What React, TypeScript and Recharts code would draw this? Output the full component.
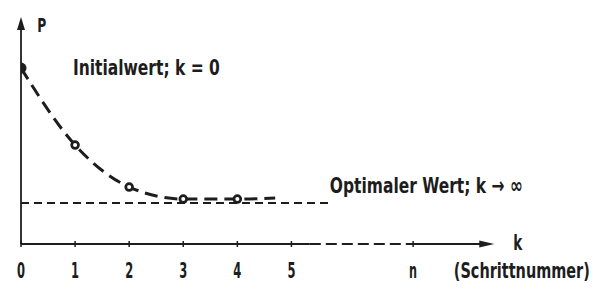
import { Line, LineChart, ReferenceDot, ReferenceLine, XAxis, YAxis } from "recharts";

// Iteration P(k): starts at the initial value, settles on the optimum.
const steps = [0, 1, 2, 3, 4, 4.7];
const pValues = [7.75, 4.36, 2.51, 1.98, 1.98, 2.03];
const marked = [true, true, true, true, true, false];
const optimum = 1.81;

const stepTicks = [0, 1, 2, 3, 4, 5, 7.25];
const tickLabels = ["0", "1", "2", "3", "4", "5", "n"];
const unitTick = 9.26;
const unitLabel = "(Schrittnummer)";

const INK = "#1d1d1d";
const FONT = "'DejaVu Sans Condensed', 'DejaVu Sans', sans-serif";
const X_MAX = 10.65;
const P_MAX = 10;
const SQUEEZE = 0.72;

const data = steps.map((k, i) => ({ k, p: pValues[i], marked: marked[i] }));

function StepTick(props: any) {
  const { x, y, payload } = props;
  if (payload.value === unitTick) {
    return (
      <text transform={`translate(${x},${y + 34}) scale(${SQUEEZE},1)`} textAnchor="middle"
        fontFamily={FONT} fontWeight="bold" fontSize={21} fill={INK}
        textLength={136 / SQUEEZE} lengthAdjust="spacingAndGlyphs">
        {unitLabel}
      </text>
    );
  }
  const i = stepTicks.indexOf(payload.value);
  return (
    <g>
      <line x1={x} x2={x} y1={y - 3} y2={y + 3} stroke={INK} strokeWidth={1.5} />
      <text x={x} y={y + 34} textAnchor="middle" fontFamily={FONT} fontWeight="bold"
        fontSize={21} fill={INK} textLength={8} lengthAdjust="spacingAndGlyphs">
        {tickLabels[i]}
      </text>
    </g>
  );
}

function StepDot(props: any) {
  const { cx, cy, payload, index } = props;
  if (!payload.marked) return <g key={index} />;
  if (index === 0) return <circle key={index} cx={cx} cy={cy} r={5.5} fill={INK} />;
  return <circle key={index} cx={cx} cy={cy} r={3.4} fill="#fff" stroke={INK} strokeWidth={2.7} />;
}

const caption = (text: string, width: number, size = 22) => (p: any) => (
  <text x={p.cx} y={p.cy} fontFamily={FONT} fontWeight="bold" fontSize={size} fill={INK}
    textLength={width} lengthAdjust="spacingAndGlyphs">
    {text}
  </text>
);

const arrowRight = (p: any) => (
  <polygon points={`${p.cx},${p.cy} ${p.cx - 15},${p.cy - 3.5} ${p.cx - 15},${p.cy + 3.5}`} fill={INK} />
);
const arrowUp = (p: any) => (
  <polygon points={`${p.cx},${p.cy} ${p.cx - 4},${p.cy + 13} ${p.cx + 4},${p.cy + 13}`} fill={INK} />
);

export default function App() {
  return (
    <div style={{ position: "absolute", left: 0, top: 0, width: 597, height: 289, background: "#fff" }}>
      <LineChart width={597} height={289} data={data} margin={{ top: 17, right: 0, bottom: 0, left: 21 }}>
        <XAxis type="number" dataKey="k" domain={[0, X_MAX]} ticks={[...stepTicks, unitTick]}
          interval={0} height={45} axisLine={false} tickLine={false} tickSize={0} tickMargin={0}
          tick={<StepTick />} allowDataOverflow />
        <YAxis type="number" domain={[0, P_MAX]} hide allowDataOverflow />

        {/* axes */}
        <ReferenceLine segment={[{ x: 0, y: 0 }, { x: 0, y: P_MAX - 0.4 }]} stroke={INK} strokeWidth={1.8} />
        <ReferenceLine segment={[{ x: 0, y: 0 }, { x: 5.34, y: 0 }]} stroke={INK} strokeWidth={1.8} />
        <ReferenceLine segment={[{ x: 5.34, y: 0 }, { x: 7.25, y: 0 }]} stroke={INK} strokeWidth={1.8}
          strokeDasharray="11 5" />
        <ReferenceLine segment={[{ x: 7.25, y: 0 }, { x: 8.5, y: 0 }]} stroke={INK} strokeWidth={1.8} />
        <ReferenceDot x={8.75} y={0} r={0} shape={arrowRight} ifOverflow="visible" />
        <ReferenceDot x={0} y={P_MAX} r={0} shape={arrowUp} ifOverflow="visible" />

        {/* optimum */}
        <ReferenceLine segment={[{ x: 0, y: optimum }, { x: 5.75, y: optimum }]} stroke={INK}
          strokeWidth={2} strokeDasharray="8 5" />

        <Line type="monotone" dataKey="p" stroke={INK} strokeWidth={3} strokeDasharray="13 7"
          dot={StepDot} activeDot={false} isAnimationActive={false} />

        {/* labels */}
        <ReferenceDot x={0.3} y={9.35} r={0} shape={caption("P", 9, 20)} ifOverflow="visible" />
        <ReferenceDot x={0.96} y={7.44} r={0} shape={caption("Initialwert; k = 0", 147)} ifOverflow="visible" />
        <ReferenceDot x={5.71} y={2.25} r={0} shape={caption("Optimaler Wert; k \u2192 \u221e", 193)}
          ifOverflow="visible" />
        <ReferenceDot x={9.1} y={-0.26} r={0} shape={caption("k", 9)} ifOverflow="visible" />
      </LineChart>
    </div>
  );
}
